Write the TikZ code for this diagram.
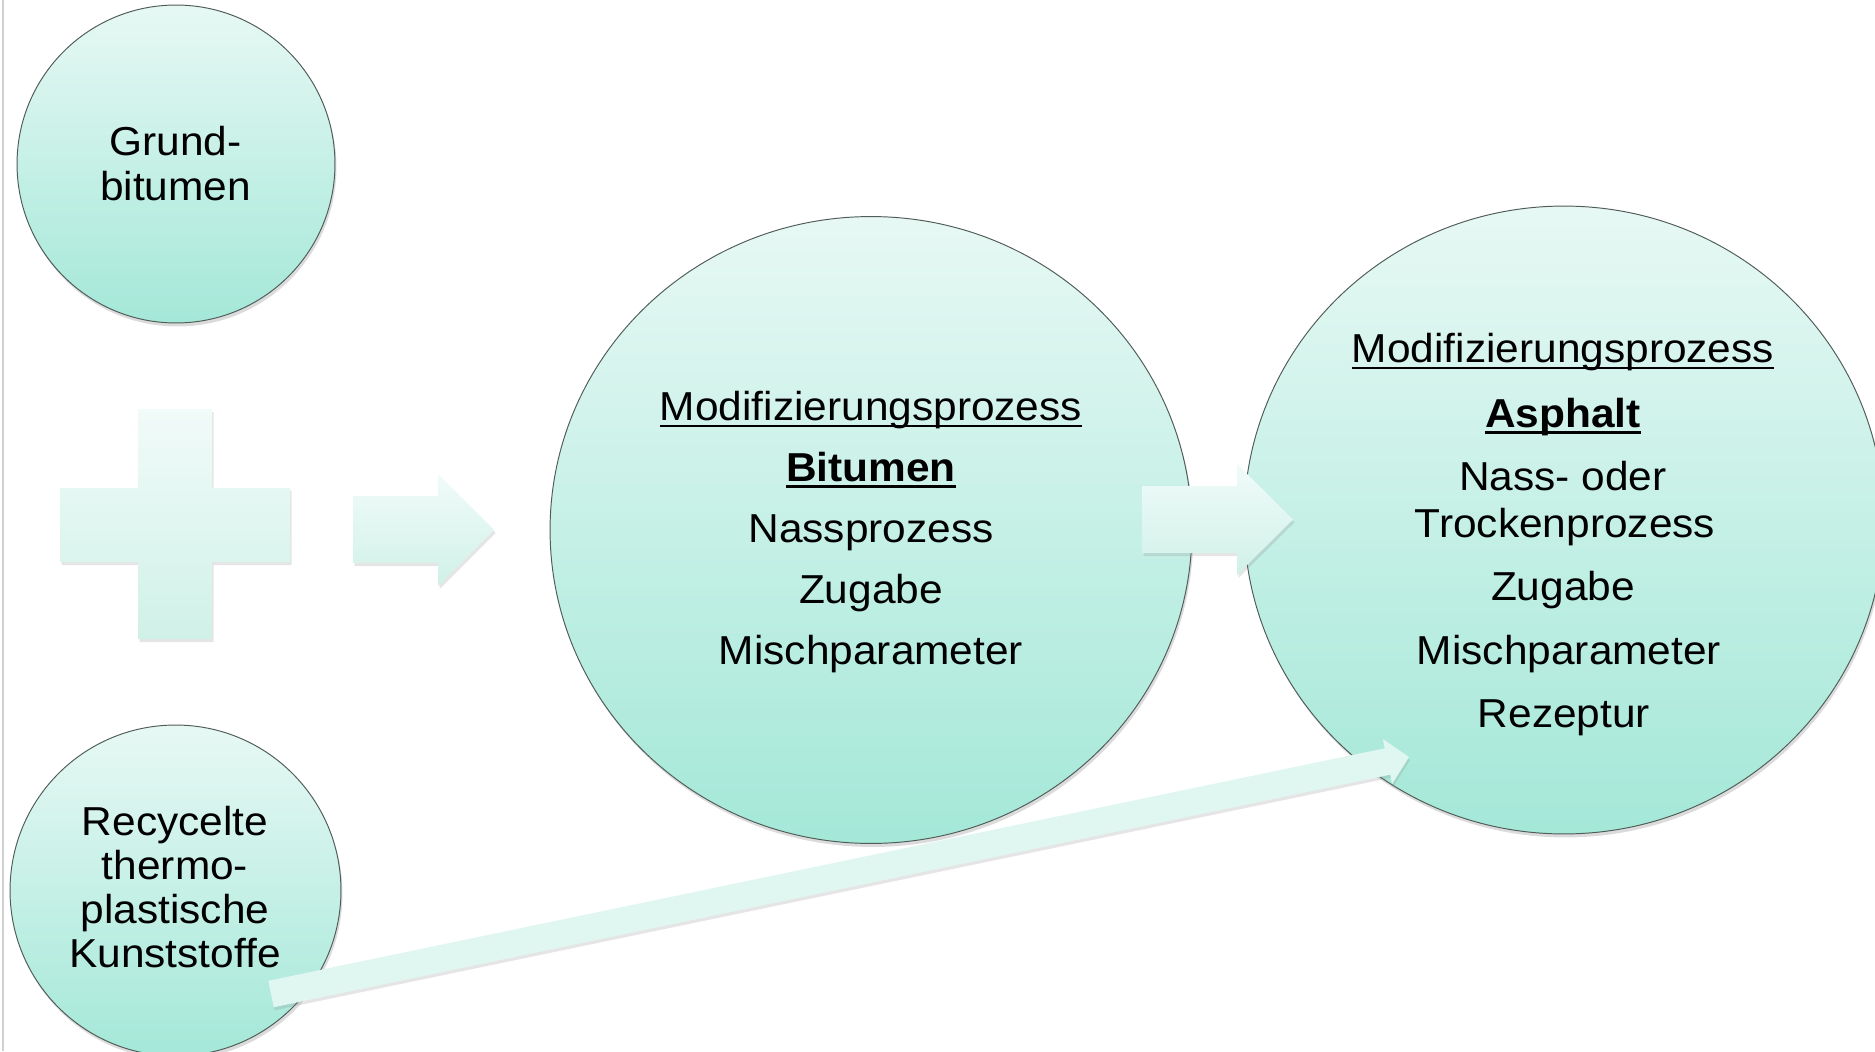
\documentclass[tikz,border=0pt]{standalone}
\usepackage{fontspec}
\setmainfont[FakeStretch=1.05]{Liberation Sans}
\usetikzlibrary{shapes.geometric,shadows,calc}
\definecolor{circTop}{RGB}{231,248,244}
\definecolor{circBot}{RGB}{164,232,216}
\definecolor{circLine}{RGB}{80,92,88}
\definecolor{blkTop}{RGB}{241,251,249}
\definecolor{blkBot}{RGB}{208,241,232}
\definecolor{longArr}{RGB}{224,246,240}
\definecolor{edgeGray}{RGB}{208,208,208}
\newcommand\myul[2][0.06em]{\setbox0\hbox{#2}\rlap{\rule[-0.18em]{\wd0}{#1}}\box0}
\begin{document}
\begin{tikzpicture}[x=0.02cm,y=-0.02cm,
  bubble/.style={ellipse, draw=circLine, line width=0.55pt, top color=circTop, bottom color=circBot, inner sep=0pt,
    drop shadow={opacity=0.28, shadow xshift=0.03cm, shadow yshift=-0.07cm}},
  blockshape/.style={top color=blkTop, bottom color=blkBot, draw=none,
    drop shadow={opacity=0.2, shadow xshift=0.03cm, shadow yshift=-0.06cm}},
  txt/.style={anchor=base, inner sep=0pt, font=\fontsize{23}{25}\selectfont},
]
\useasboundingbox (0,0) rectangle (1875,1051);
\clip (0,0) rectangle (1875,1051);
\fill[white] (0,0) rectangle (1875,1051);
\fill[edgeGray] (2,0) rectangle (4,1051);

% circles
\node[bubble, minimum width=6.36cm, minimum height=6.36cm] (grund) at (176,164) {};
\node[bubble, minimum width=6.62cm, minimum height=6.62cm] (recyc) at (175.5,890.5) {};
\node[bubble, minimum width=12.84cm, minimum height=12.54cm] (bitu) at (871,530) {};
\node[bubble, minimum width=12.8cm, minimum height=12.56cm] (asph) at (1564,520) {};

% plus sign
\path[blockshape] (138,409) -- (212,409) -- (212,488) -- (290,488) -- (290,562) -- (212,562)
  -- (212,639) -- (138,639) -- (138,562) -- (60,562) -- (60,488) -- (138,488) -- cycle;

% arrow 1
\coordinate (a1tail) at (353,529.5);
\coordinate (a1tip) at (494,530);
\path[blockshape] (353,496) -- (438,496) -- (438,474) -- (a1tip) -- (438,586) -- (438,563) -- (353,563) -- cycle;

% arrow 2
\coordinate (a2tip) at (1293,519.5);
\path[blockshape] (1142,486) -- (1237,486) -- (1237,464) -- (a2tip) -- (1237,575) -- (1237,553) -- (1142,553) -- cycle;

% long arrow from recyc to asph
\coordinate (a3tail) at (271,994);
\coordinate (a3tip) at (1409,757);
\path[fill=longArr, drop shadow={opacity=0.2, shadow xshift=0.02cm, shadow yshift=-0.06cm}]
  (268.25,980.78) -- (1384.71,748.27) -- (1382.77,738.97) -- (a3tip) -- (1392.15,784.0)
  -- (1390.21,774.70) -- (273.75,1007.22) -- cycle;

% texts
\node[txt] (g1) at (175.5,155) {Grund-};
\node[txt] (g2) at (175.5,200) {bitumen};

\node[txt] (r1) at (175,835) {Recycelte};
\node[txt] (r2) at (175,879) {thermo-};
\node[txt] (r3) at (175,923) {plastische};
\node[txt] (r4) at (175,967) {Kunststoffe};

\node[txt] (b1) at (871,420) {\myul{Modifizierungsprozess}};
\node[txt] (b2) at (871,481) {\myul[0.08em]{\bfseries Bitumen}};
\node[txt] (b3) at (871,542) {Nassprozess};
\node[txt] (b4) at (871,603) {Zugabe};
\node[txt] (b5) at (871,664) {Mischparameter};

\node[txt] (s1) at (1563,362) {\myul{Modifizierungsprozess}};
\node[txt] (s2) at (1563,427) {\myul[0.08em]{\bfseries Asphalt}};
\node[txt] (s3) at (1563,490) {Nass- oder};
\node[txt] (s4) at (1565,537) {Trockenprozess};
\node[txt] (s5) at (1563,600) {Zugabe};
\node[txt] (s6) at (1569,664) {Mischparameter};
\node[txt] (s7) at (1564,727) {Rezeptur};
\end{tikzpicture}
\end{document}
